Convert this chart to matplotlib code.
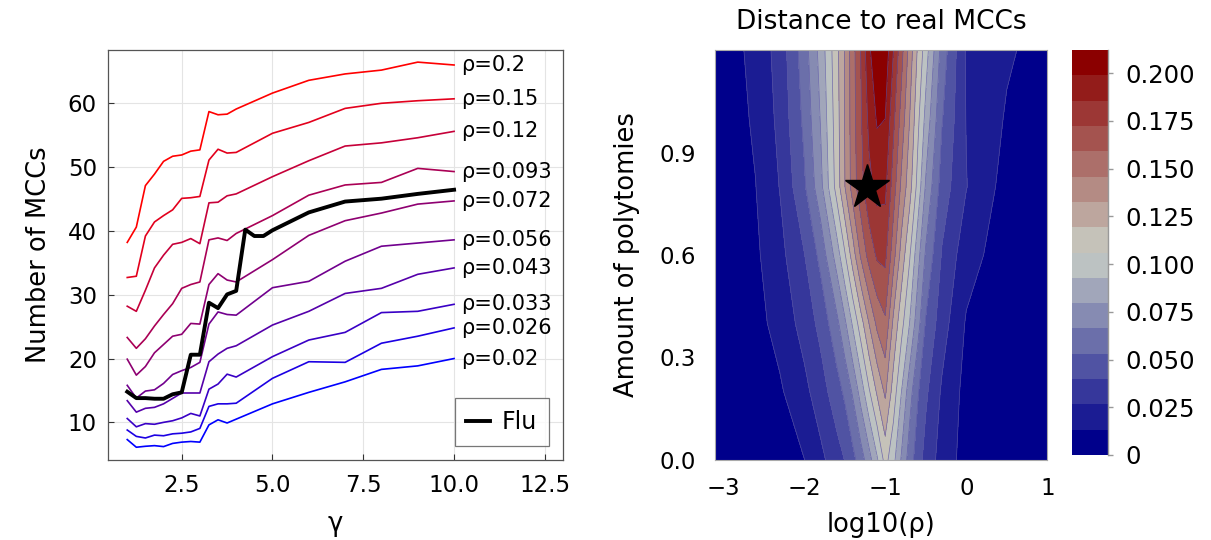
import numpy as np
import matplotlib.pyplot as plt
from matplotlib.colors import LinearSegmentedColormap

plt.rcParams['font.family'] = ['DejaVu Sans']

# ---- left panel: number of MCCs vs gamma ----
gamma = [1, 1.25, 1.5, 1.75, 2, 2.25, 2.5, 2.75, 3, 3.25, 3.5, 3.75, 4, 5, 6, 7, 8, 9, 10]
gamma_flu = [1, 1.25, 1.5, 1.75, 2, 2.25, 2.5, 2.75, 3, 3.25, 3.5, 3.75, 4,
             4.25, 4.5, 4.75, 5, 6, 7, 8, 9, 10]

n_020 = [7.3, 6.1, 6.25, 6.35, 6.2, 6.7, 6.9, 7.0, 6.9, 9.6, 10.4, 9.9, 10.5, 12.9, 14.7, 16.35, 18.3, 18.85, 20.0]
n_026 = [8.8, 7.8, 7.55, 8.0, 7.9, 8.2, 8.3, 8.5, 9.05, 12.5, 12.9, 12.9, 13.0, 16.9, 19.5, 19.4, 22.4, 23.5, 24.8]
n_033 = [10.6, 9.3, 9.8, 9.7, 10.0, 10.25, 10.7, 11.4, 11.0, 15.2, 16.0, 17.55, 17.1, 20.3, 22.9, 24.1, 27.2, 27.4, 28.5]
n_043 = [13.4, 11.6, 12.2, 12.35, 12.9, 13.75, 14.6, 14.6, 14.6, 19.5, 20.7, 21.6, 22.0, 25.25, 27.4, 30.2, 31.0, 33.2, 34.2]
n_056 = [15.8, 13.8, 14.9, 15.1, 16.1, 17.5, 18.1, 18.6, 19.4, 25.4, 27.3, 26.9, 26.8, 31.1, 32.1, 35.25, 37.6, 38.1, 38.6]
n_072 = [19.9, 17.4, 18.75, 20.9, 22.2, 23.5, 23.8, 25.5, 25.4, 31.6, 33.3, 32.3, 32.0, 35.5, 39.3, 41.6, 42.8, 44.2, 44.7]
n_093 = [23.3, 21.6, 23.1, 25.1, 26.9, 28.6, 31.0, 31.6, 32.0, 38.6, 38.9, 38.5, 39.6, 42.4, 45.6, 47.2, 47.6, 49.8, 49.3]
n_12 = [28.2, 27.4, 30.7, 34.2, 36.2, 37.9, 38.2, 38.8, 38.0, 44.4, 44.5, 45.5, 45.8, 48.5, 51.0, 53.3, 53.8, 54.6, 55.6]
n_15 = [32.7, 32.9, 39.2, 41.4, 42.4, 43.3, 45.1, 45.2, 45.4, 51.1, 52.8, 52.2, 52.3, 55.3, 57.0, 59.2, 60.0, 60.4, 60.7]
n_20 = [38.2, 40.6, 47.1, 48.9, 50.9, 51.7, 51.9, 52.5, 52.7, 58.7, 58.2, 58.3, 59.1, 61.6, 63.6, 64.6, 65.2, 66.45, 66.0]

n_flu = [14.8, 13.8, 13.8, 13.7, 13.7, 14.4, 14.7, 20.6, 20.6, 28.75, 27.9, 30.05, 30.6,
         40.2, 39.2, 39.2, 40.1, 42.9, 44.6, 45.05, 45.8, 46.45]

rho_names = ['0.02', '0.026', '0.033', '0.043', '0.056', '0.072', '0.093', '0.12', '0.15', '0.2']
curves = [n_020, n_026, n_033, n_043, n_056, n_072, n_093, n_12, n_15, n_20]

# ---- right panel: distance to real MCCs ----
log_rho = [-3.1, -2.6, -2.3, -2.0, -1.8, -1.6, -1.5, -1.4, -1.3, -1.2, -1.1,
           -1.0, -0.9, -0.8, -0.7, -0.6, -0.5, -0.3, 0.0, 0.5, 1.0]
polytomies = [0.0, 0.2, 0.4, 0.6, 0.8, 1.0, 1.2]
d_00 = [.001, .004, .008, .013, .023, .034, .040, .049, .060, .074, .091, .111, .097, .078, .060, .046, .035, .021, .008, .004, .002]
d_02 = [.002, .006, .0115, .0228, .0335, .0472, .0555, .0681, .0853, .1043, .1213, .135, .1137, .0929, .0721, .0548, .0422, .0247, .009, .004, .002]
d_04 = [.003, .009, .0178, .0315, .0435, .0624, .0767, .0948, .1137, .1327, .149, .157, .130, .1106, .0929, .0721, .0519, .0324, .012, .005, .002]
d_06 = [.003, .011, .0225, .0392, .0567, .0853, .1043, .126, .148, .1643, .1745, .176, .1513, .1274, .1078, .0849, .0645, .0386, .0187, .006, .002]
d_08 = [.004, .013, .027, .051, .075, .111, .132, .152, .168, .182, .190, .189, .166, .143, .125, .102, .078, .047, .027, .008, .003]
d_10 = [.004, .015, .030, .056, .080, .113, .133, .153, .171, .189, .2005, .199, .176, .154, .133, .110, .089, .054, .026, .012, .005]
d_12 = [.004, .017, .032, .060, .084, .115, .133, .154, .173, .196, .212, .208, .186, .164, .141, .118, .099, .061, .025, .015, .008]
dist = [d_00, d_02, d_04, d_06, d_08, d_10, d_12]

best_log_rho = -1.23
best_poly = 0.8

cb_ticks = [0, 0.025, 0.05, 0.075, 0.1, 0.125, 0.15, 0.175, 0.2]
cb_labels = ['0', '0.025', '0.050', '0.075', '0.100', '0.125', '0.150', '0.175', '0.200']

fig = plt.figure(figsize=(12.11, 5.4), dpi=100)
W, H = 1211, 540

ax1 = fig.add_axes([108 / W, 80 / H, 455 / W, 410 / H])
n = len(curves)
for i, (vals, name) in enumerate(zip(curves, rho_names)):
    t = i / (n - 1)
    col = (t, 0, 1 - t)
    ax1.plot(gamma, vals, color=col, lw=1.2)
    ax1.annotate('ρ=' + name, xy=(gamma[-1], vals[-1]), xytext=(5, 0),
                 textcoords='offset points', ha='left', va='center', fontsize=15)
ax1.plot(gamma_flu, n_flu, color='black', lw=2.8, label='Flu')
ax1.set_xlim(0.47, 13.0)
ax1.set_ylim(4.1, 68.35)
ax1.set_xticks([2.5, 5.0, 7.5, 10.0, 12.5])
ax1.set_xticklabels(['2.5', '5.0', '7.5', '10.0', '12.5'])
ax1.set_yticks([10, 20, 30, 40, 50, 60])
ax1.grid(True, color='#e4e4e4', lw=0.8)
ax1.set_axisbelow(True)
ax1.tick_params(direction='in', length=4, width=0.8, labelsize=16.5, colors='#333333',
                labelcolor='black')
ax1.tick_params(axis='x', pad=10)
ax1.tick_params(axis='y', pad=8)
for s in ax1.spines.values():
    s.set_color('#555555')
    s.set_linewidth(0.9)
ax1.set_xlabel('γ', fontsize=18.5, labelpad=10)
ax1.set_ylabel('Number of MCCs', fontsize=18.5, labelpad=11)
leg = ax1.legend(loc='lower right', fontsize=17, frameon=True, fancybox=False,
                 handlelength=1.0, handletextpad=0.5, borderaxespad=0.6, borderpad=0.5)
leg.get_frame().set_edgecolor('#555555')
leg.get_frame().set_linewidth(0.9)

# contour
ax2 = fig.add_axes([715 / W, 80 / H, 332.3 / W, 410 / H])
X, Y = np.meshgrid(log_rho, polytomies)
Z = np.array(dist)
levels = np.linspace(0, 0.2122, 17)
cmap = LinearSegmentedColormap.from_list('dist', ['#00008b', '#c9d0c6', '#8b0000'])
band_colors = [cmap(i / 15) for i in range(16)]
cf = ax2.contourf(X, Y, Z, levels=levels, colors=band_colors)
ax2.contour(X, Y, Z, levels=levels[1:-1], colors='#5a55a8', linewidths=0.5, alpha=0.8)
ax2.plot([best_log_rho], [best_poly], marker='*', ms=33, color='black', ls='none')
ax2.set_xlim(-3.1, 1.0)
ax2.set_ylim(0, 1.2)
ax2.set_xticks([-3, -2, -1, 0, 1])
ax2.set_yticks([0.0, 0.3, 0.6, 0.9])
ax2.set_yticklabels(['0.0', '0.3', '0.6', '0.9'])
ax2.tick_params(length=0, labelsize=16.5)
ax2.tick_params(axis='x', pad=12)
ax2.tick_params(axis='y', pad=14)
for s in ax2.spines.values():
    s.set_color('#aaaaaa')
    s.set_linewidth(0.8)
ax2.set_xlabel('log10(ρ)', fontsize=18.5, labelpad=9)
ax2.set_ylabel('Amount of polytomies', fontsize=18.5, labelpad=14)
ax2.set_title('Distance to real MCCs', fontsize=19, pad=15)

cax = fig.add_axes([1072 / W, 85 / H, 36 / W, 405 / H])
cb = fig.colorbar(cf, cax=cax, ticks=cb_ticks)
cb.outline.set_visible(False)
cax.set_yticklabels(cb_labels)
cax.tick_params(length=3.6, width=1, color='#999999', labelsize=17.5, pad=9)
cax.plot([1, 1], [0, 1], transform=cax.transAxes, color='#999999', lw=1, clip_on=False)

fig.savefig('out.png', dpi=100)
